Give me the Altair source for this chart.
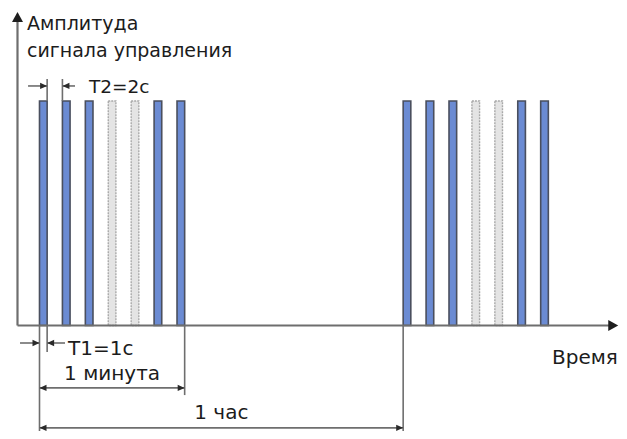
import altair as alt
import pandas as pd

# ---- data (time in seconds along the drawn axis, amplitude in signal units) ----
pulse_start = [0, 3, 6, 9, 12, 15, 18, 47.6, 50.6, 53.6, 56.6, 59.6, 62.6, 65.6]
pulse_state = ["on", "on", "on", "skip", "skip", "on", "on",
               "on", "on", "on", "skip", "skip", "on", "on"]
pulse_width = 1.0
pulse_amp = 1.0

labels = ["Амплитуда", "сигнала управления", "T2=2с", "T1=1с", "1 минута", "1 час", "Время"]

# ---- layout (data units) ----
X_DOM = [-4.123, 75.85]
Y_DOM = [-0.47, 1.4143]
AX_X = -2.88          # y-axis position
X_END = 74.6          # end of x-axis shaft
X_TIP = 75.75
Y_END = 1.361
Y_TIP = 1.396
minute_end = pulse_start[6] + pulse_width
hour_end = pulse_start[7]
HOUR_Y = -0.456

segments = pd.DataFrame([
    # axes
    dict(x=AX_X, x2=AX_X, y=0, y2=Y_END, k="axis"),
    dict(x=AX_X, x2=X_END, y=0, y2=0, k="axis"),
    # T2
    dict(x=pulse_start[0] + pulse_width, x2=pulse_start[0] + pulse_width, y=pulse_amp, y2=1.098, k="dim"),
    dict(x=pulse_start[1], x2=pulse_start[1], y=pulse_amp, y2=1.098, k="dim"),
    dict(x=-1.5, x2=pulse_start[0] + pulse_width, y=1.067, y2=1.067, k="dim"),
    dict(x=pulse_start[1], x2=4.65, y=1.067, y2=1.067, k="dim"),
    # T1
    dict(x=pulse_start[0] + pulse_width, x2=pulse_start[0] + pulse_width, y=0, y2=-0.118, k="dim"),
    dict(x=pulse_start[0], x2=pulse_start[0], y=0, y2=Y_DOM[0], k="dim"),
    dict(x=-2.55, x2=pulse_start[0], y=-0.078, y2=-0.078, k="dim"),
    dict(x=pulse_start[0] + pulse_width, x2=3.34, y=-0.078, y2=-0.078, k="dim"),
    # 1 minute
    dict(x=minute_end, x2=minute_end, y=0, y2=-0.31, k="dim"),
    dict(x=pulse_start[0], x2=minute_end, y=-0.278, y2=-0.278, k="dim"),
    # 1 hour
    dict(x=hour_end, x2=hour_end, y=0, y2=Y_DOM[0], k="dim"),
    dict(x=pulse_start[0], x2=hour_end, y=HOUR_Y, y2=HOUR_Y, k="dim"),
])

axis_heads = pd.DataFrame([
    dict(x=AX_X, y=Y_TIP, a=270),
    dict(x=X_TIP, y=0, a=0),
])

dim_heads = pd.DataFrame([
    dict(x=pulse_start[0] + pulse_width, y=1.067, a=0),
    dict(x=pulse_start[1], y=1.067, a=180),
    dict(x=pulse_start[0], y=-0.078, a=0),
    dict(x=pulse_start[0] + pulse_width, y=-0.078, a=180),
    dict(x=pulse_start[0], y=-0.278, a=180),
    dict(x=minute_end, y=-0.278, a=0),
    dict(x=pulse_start[0], y=HOUR_Y, a=180),
    dict(x=hour_end, y=HOUR_Y, a=0),
])

texts = pd.DataFrame([
    dict(t=labels[0], x=-1.64, y=1.316, al="left", fs=19),
    dict(t=labels[1], x=-1.64, y=1.196, al="left", fs=19),
    dict(t=labels[2], x=6.48, y=1.036, al="left", fs=18.5),
    dict(t=labels[3], x=3.73, y=-0.131, al="left", fs=20),
    dict(t=labels[4], x=(pulse_start[0] + minute_end) / 2, y=-0.243, al="center", fs=20),
    dict(t=labels[5], x=(pulse_start[0] + hour_end) / 2, y=-0.418, al="center", fs=20),
    dict(t=labels[6], x=75.7, y=-0.171, al="right", fs=20),
])

pulses = pd.DataFrame({
    "s": pulse_start,
    "e": [p + pulse_width for p in pulse_start],
    "state": pulse_state,
    "amp": [pulse_amp] * len(pulse_start),
})

xs = alt.Scale(domain=X_DOM, nice=False, zero=False)
ys = alt.Scale(domain=Y_DOM, nice=False, zero=False)

on_bars = alt.Chart(pulses).transform_filter(alt.datum.state == "on").mark_rect(
    fill="#6b8bd3", stroke="#4a4f5e", strokeWidth=1.6
).encode(
    x=alt.X("s:Q", scale=xs, axis=None), x2="e:Q",
    y=alt.Y("amp:Q", scale=ys, axis=None), y2=alt.datum(0),
)

skip_bars = alt.Chart(pulses).transform_filter(alt.datum.state == "skip").mark_rect(
    fill="#e4e4e4", stroke="#a8a8a8", strokeWidth=1.4, strokeDash=[2, 1]
).encode(
    x=alt.X("s:Q", scale=xs, axis=None), x2="e:Q",
    y=alt.Y("amp:Q", scale=ys, axis=None), y2=alt.datum(0),
)

axis_lines = alt.Chart(segments).transform_filter(alt.datum.k == "axis").mark_rule(
    color="#6e6e6e", strokeWidth=2.2
).encode(
    x=alt.X("x:Q", scale=xs, axis=None), x2="x2:Q",
    y=alt.Y("y:Q", scale=ys, axis=None), y2="y2:Q",
)

dim_lines = alt.Chart(segments).transform_filter(alt.datum.k == "dim").mark_rule(
    color="#6e6e6e", strokeWidth=1.6
).encode(
    x=alt.X("x:Q", scale=xs, axis=None), x2="x2:Q",
    y=alt.Y("y:Q", scale=ys, axis=None), y2="y2:Q",
)

axis_arrow = alt.Chart(axis_heads).mark_point(
    shape="M0,0L-1,-0.55L-1,0.55Z", filled=True, color="#1e1e1e", opacity=1, size=400
).encode(
    x=alt.X("x:Q", scale=xs, axis=None), y=alt.Y("y:Q", scale=ys, axis=None),
    angle=alt.Angle("a:Q", scale=None),
)

dim_arrow = alt.Chart(dim_heads).mark_point(
    shape="M0,0L-1,-0.45L-1,0.45Z", filled=True, color="#2a2a2a", opacity=1, size=196
).encode(
    x=alt.X("x:Q", scale=xs, axis=None), y=alt.Y("y:Q", scale=ys, axis=None),
    angle=alt.Angle("a:Q", scale=None),
)

def text_layer(align):
    return alt.Chart(texts).transform_filter(alt.datum.al == align).mark_text(
        font="DejaVu Sans", color="#1c1c1c", align=align, baseline="alphabetic"
    ).encode(
        x=alt.X("x:Q", scale=xs, axis=None), y=alt.Y("y:Q", scale=ys, axis=None),
        text="t:N", size=alt.Size("fs:Q", scale=None),
    )

chart = alt.layer(
    skip_bars, on_bars, dim_lines, axis_lines, dim_arrow, axis_arrow,
    text_layer("left"), text_layer("center"), text_layer("right"),
).properties(
    width=611, height=423, padding=0, autosize=alt.AutoSizeParams(type="none"),
    background="white",
).configure_view(stroke=None)

chart.save("out.html", embed_options={"renderer": "svg", "actions": False})
